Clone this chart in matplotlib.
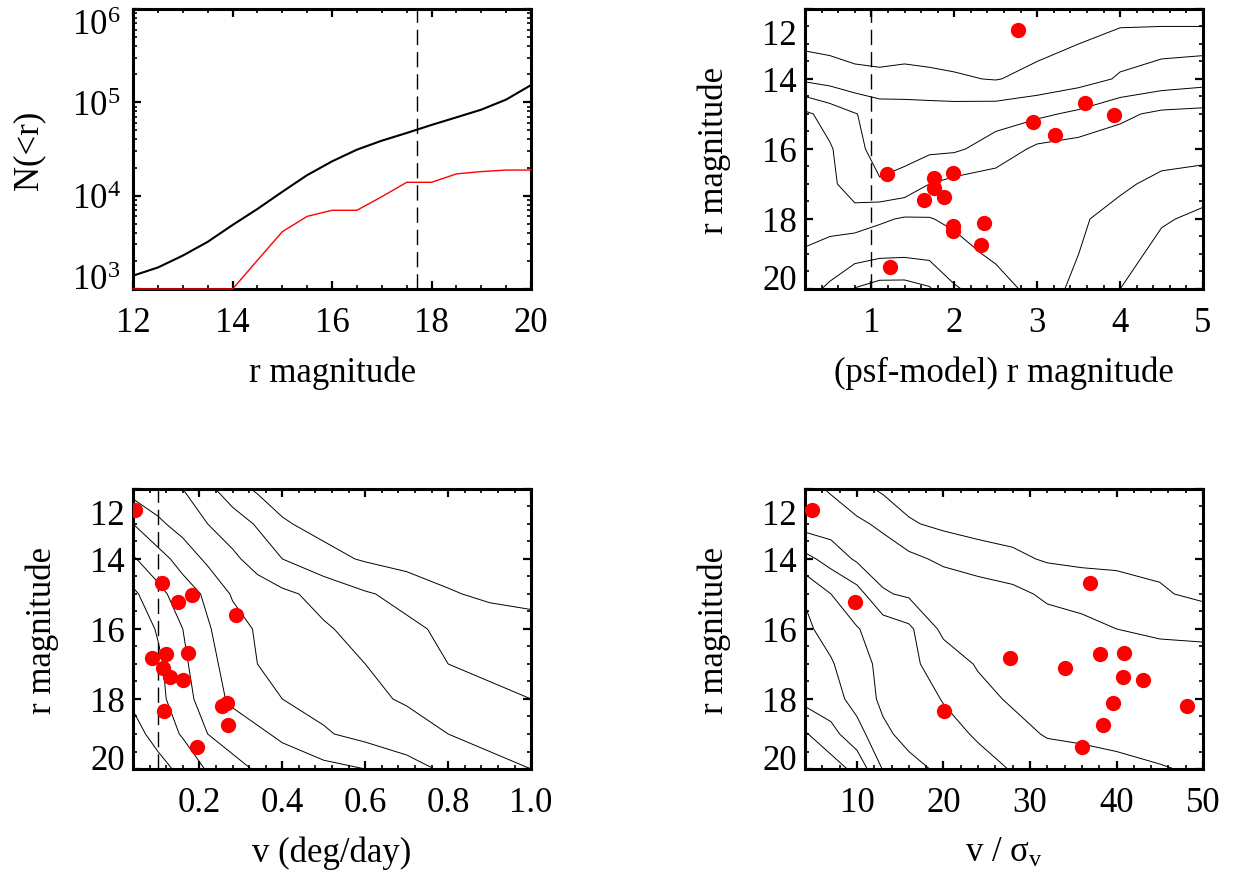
import numpy as np
import matplotlib
matplotlib.use('Agg')
import matplotlib.pyplot as plt
from matplotlib.ticker import MultipleLocator, LogLocator, NullFormatter
from matplotlib.transforms import ScaledTranslation

plt.rcParams['font.family'] = ['Liberation Serif', 'DejaVu Serif']
plt.rcParams['mathtext.fontset'] = 'custom'
plt.rcParams['mathtext.rm'] = 'Liberation Serif'
plt.rcParams['mathtext.it'] = 'Liberation Serif:italic'
plt.rcParams['font.size'] = 25

# cumulative counts brighter than r
mag_bins = [12.0, 12.5, 13.0, 13.5, 14.0, 14.5, 15.0, 15.5, 16.0,
            16.5, 17.0, 17.5, 18.0, 18.5, 19.0, 19.5, 20.0]
n_all = [1390, 1700, 2280, 3200, 4850, 7200, 11000, 16600, 23300,
         31100, 38800, 46900, 57200, 69000, 83400, 107000, 153000]
n_sel = [1000, 1000, 1000, 1000, 1000, 2030, 4110, 6000, 6970,
         6970, 9750, 13900, 13900, 17100, 18100, 18800, 18800]
r_limit = 17.7

# the flagged objects
r_obj = [12.61, 14.69, 15.03, 15.24, 15.59, 16.69, 16.71, 16.82,
         17.12, 17.36, 17.45, 18.12, 18.19, 18.35, 18.74, 19.38]
psf_model = [2.77, 3.58, 3.93, 2.95, 3.21, 1.98, 1.19, 1.75,
             1.75, 1.88, 1.64, 2.36, 1.98, 1.98, 2.32, 1.22]
speed = [0.045, 0.109, 0.183, 0.148, 0.288, 0.173, 0.120, 0.085,
         0.113, 0.129, 0.161, 0.266, 0.255, 0.115, 0.270, 0.195]
v_sig = [4.77, 36.95, 55.0, 9.78, 60.0, 40.9, 38.1, 27.7,
         34.06, 40.8, 43.1, 39.6, 48.1, 20.07, 38.4, 36.0]

# binned density (contour level units) on an r grid
r_grid = [12, 13, 14, 15, 16, 17, 18, 19, 20]

psf_grid = [0.2, 0.5, 0.8, 1.1, 1.4, 1.7, 2.0, 2.5, 3.0, 3.5, 4.0, 4.5, 5.0]
dens_psf = [
    [0.4, 0.4, 0.3, 0.3, 0.3, 0.3, 0.3, 0.3, 0.3, 0.3, 0.3, 0.3, 0.3],
    [0.8, 0.7, 0.6, 0.6, 0.6, 0.6, 0.6, 0.6, 0.7, 1.0, 1.6, 1.7, 1.7],
    [1.8, 1.6, 1.3, 1.2, 1.3, 1.2, 1.1, 0.95, 1.3, 1.6, 2.1, 2.4, 2.6],
    [4.2, 3.6, 3.05, 2.6, 2.5, 2.5, 2.5, 2.6, 2.8, 3.2, 3.8, 4.2, 4.3],
    [4.4, 4.1, 3.3, 2.6, 2.7, 2.8, 2.85, 3.4, 4.2, 4.4, 4.5, 4.5, 4.5],
    [4.6, 4.3, 3.3, 3.1, 3.3, 4.0, 4.3, 4.5, 4.5, 4.5, 4.2, 3.7, 3.4],
    [4.8, 4.7, 4.6, 4.85, 5.1, 5.05, 4.8, 4.5, 4.4, 4.15, 3.6, 3.1, 2.8],
    [5.05, 5.3, 5.6, 5.8, 5.85, 5.75, 5.4, 4.8, 4.4, 4.0, 3.4, 2.7, 2.3],
    [5.6, 6.2, 7.05, 7.4, 7.4, 7.1, 6.1, 5.5, 4.6, 3.7, 3.0, 2.5, 2.2],
]

speed_grid = [0.04, 0.1, 0.16, 0.22, 0.28, 0.34, 0.4, 0.5, 0.6, 0.7, 0.8, 0.9, 1.0]
dens_speed = [
    [3.6, 3.3, 3.0, 2.25, 1.45, 0.85, 0.6, 0.4, 0.3, 0.25, 0.2, 0.2, 0.2],
    [5.0, 4.2, 3.6, 3.0, 2.5, 1.9, 1.1, 0.7, 0.5, 0.4, 0.3, 0.3, 0.3],
    [6.1, 5.4, 4.6, 3.8, 3.2, 2.6, 2.0, 1.3, 0.9, 0.6, 0.5, 0.4, 0.4],
    [7.2, 6.3, 5.5, 4.8, 3.9, 3.5, 3.2, 2.7, 2.1, 1.7, 1.1, 0.8, 0.6],
    [7.7, 6.9, 6.0, 5.1, 4.4, 3.9, 3.6, 3.1, 2.7, 2.2, 1.8, 1.6, 1.5],
    [7.8, 7.2, 6.2, 5.3, 4.6, 4.0, 3.8, 3.4, 3.0, 2.5, 2.0, 1.7, 1.6],
    [7.8, 7.3, 6.4, 5.5, 4.8, 4.4, 4.0, 3.7, 3.2, 2.9, 2.6, 2.3, 2.0],
    [8.4, 7.6, 6.9, 6.0, 5.6, 5.2, 4.8, 4.1, 3.7, 3.4, 3.0, 2.7, 2.5],
    [9.0, 8.4, 7.7, 6.9, 6.3, 5.9, 5.6, 5.3, 5.0, 4.4, 3.8, 3.3, 3.0],
]

vsig_grid = [4, 7, 10, 13, 16, 20, 24, 28, 32, 36, 40, 45, 50]
dens_vsig = [
    [2.3, 1.9, 1.3, 0.85, 0.6, 0.5, 0.4, 0.4, 0.4, 0.4, 0.4, 0.4, 0.4],
    [2.6, 2.5, 2.2, 1.8, 1.1, 0.8, 0.6, 0.6, 0.6, 0.6, 0.6, 0.6, 0.6],
    [4.3, 3.6, 2.85, 2.55, 2.25, 1.8, 1.5, 1.2, 0.9, 0.8, 0.8, 0.8, 0.8],
    [5.9, 5.0, 4.4, 3.1, 2.85, 2.7, 2.5, 2.3, 1.8, 1.6, 1.4, 1.1, 0.8],
    [6.2, 5.6, 5.05, 4.6, 4.2, 2.75, 2.7, 2.6, 2.5, 2.3, 2.0, 1.8, 1.7],
    [6.4, 6.1, 5.3, 4.8, 4.2, 3.6, 2.9, 2.7, 2.6, 2.6, 2.6, 2.5, 2.5],
    [6.7, 6.45, 5.6, 4.8, 4.5, 3.95, 3.35, 2.85, 2.7, 2.6, 2.6, 2.6, 2.6],
    [8.1, 7.3, 6.4, 5.2, 4.7, 4.3, 3.9, 3.4, 2.9, 2.8, 2.7, 2.7, 2.7],
    [8.8, 8.5, 7.7, 5.95, 5.3, 4.8, 4.3, 3.95, 3.7, 3.5, 3.3, 3.05, 2.9],
]


def idl_axes(ax, xpad=12, ypad=6):
    """thick box, inward ticks on all four sides"""
    for sp in ax.spines.values():
        sp.set_linewidth(2.2)
    ax.tick_params(which='both', direction='in', top=True, right=True)
    ax.tick_params(which='major', length=6, width=1.6)
    ax.tick_params(which='minor', length=3, width=1.2)
    ax.tick_params(axis='x', pad=xpad)
    ax.tick_params(axis='y', pad=ypad)


def mag_axis(ax):
    ax.set_ylim(20, 12)
    ax.set_yticks([12, 14, 16, 18, 20])
    ax.set_yticklabels(['12', '14', '16', '18', '20'])
    ax.yaxis.set_minor_locator(MultipleLocator(0.5))
    ax.set_ylabel('r magnitude')
    ax.yaxis.set_label_coords(-0.185, 0.5)


def pull_in_end_labels(ax, top_shift):
    # keep the end labels of the r axis inside the box height
    labs = ax.get_yticklabels()
    labs[0].set_va('top')
    labs[0].set_transform(labs[0].get_transform() +
                          ScaledTranslation(0, -top_shift / 100, fig.dpi_scale_trans))
    labs[-1].set_va('baseline')


fig = plt.figure(figsize=(12.4, 8.78), dpi=100)
w, h = 0.321, 0.319
ax1 = fig.add_axes([0.1073, 0.6697, w, h])
ax2 = fig.add_axes([0.6492, 0.6697, w, h])
ax3 = fig.add_axes([0.1073, 0.1230, w, h])
ax4 = fig.add_axes([0.6492, 0.1230, w, h])

dash = dict(color='k', lw=1.0, dashes=(11, 5))
dot = dict(ls='none', marker='o', ms=11, color='#ff0000', mec='none', zorder=4)
cont = dict(colors='k', linewidths=0.7)

# N(<r)
ax1.plot(mag_bins, n_all, color='k', lw=1.5)
ax1.plot(mag_bins, n_sel, color='#ff0000', lw=1.0, clip_on=False, zorder=3)
ax1.axvline(r_limit, **dash)
ax1.set_yscale('log')
ax1.set_xlim(12, 20)
ax1.set_ylim(1e3, 1e6)
ax1.xaxis.set_major_locator(MultipleLocator(2))
ax1.xaxis.set_minor_locator(MultipleLocator(0.5))
ax1.set_yticks([1e3, 1e4, 1e5, 1e6])
ax1.set_yticklabels(['$10^{3}$', '$10^{4}$', '$10^{5}$', '$10^{6}$'])
ax1.yaxis.set_minor_locator(LogLocator(base=10, subs=np.arange(2, 10)))
ax1.yaxis.set_minor_formatter(NullFormatter())
ax1.set_xlabel('r magnitude', labelpad=12)
ax1.set_ylabel('N(<r)')
ax1.yaxis.set_label_coords(-0.22, 0.5)
idl_axes(ax1, ypad=9)
labs = ax1.get_yticklabels()
labs[0].set_va('baseline')
labs[-1].set_va('top')

# psf - model
ax2.contour(psf_grid, r_grid, dens_psf, levels=np.arange(1, 8), **cont)
ax2.axvline(1.0, **dash)
ax2.plot(psf_model, r_obj, **dot)
ax2.set_xlim(0.2, 5.0)
ax2.xaxis.set_major_locator(MultipleLocator(1))
ax2.xaxis.set_minor_locator(MultipleLocator(0.2))
mag_axis(ax2)
ax2.set_xlabel('(psf-model) r magnitude', labelpad=12)
idl_axes(ax2)
pull_in_end_labels(ax2, 10)

# speed
ax3.contour(speed_grid, r_grid, dens_speed, levels=np.arange(1, 9), **cont)
ax3.axvline(0.1, **dash)
ax3.plot(speed, r_obj, **dot)
ax3.set_xlim(0.04, 1.0)
ax3.set_xticks([0.2, 0.4, 0.6, 0.8, 1.0])
ax3.set_xticklabels(['0.2', '0.4', '0.6', '0.8', '1.0'])
ax3.xaxis.set_minor_locator(MultipleLocator(0.04))
mag_axis(ax3)
ax3.set_xlabel('v (deg/day)', labelpad=12)
idl_axes(ax3)
pull_in_end_labels(ax3, 10)

# speed significance
ax4.contour(vsig_grid, r_grid, dens_vsig, levels=np.arange(1, 9), **cont)
ax4.plot(v_sig, r_obj, **dot)
ax4.set_xlim(4, 50)
ax4.xaxis.set_major_locator(MultipleLocator(10))
ax4.xaxis.set_minor_locator(MultipleLocator(2))
mag_axis(ax4)
ax4.set_xlabel('v / σ$_{\\mathrm{v}}$', labelpad=12)
idl_axes(ax4)
pull_in_end_labels(ax4, 10)

fig.savefig('out.png', dpi=100)
